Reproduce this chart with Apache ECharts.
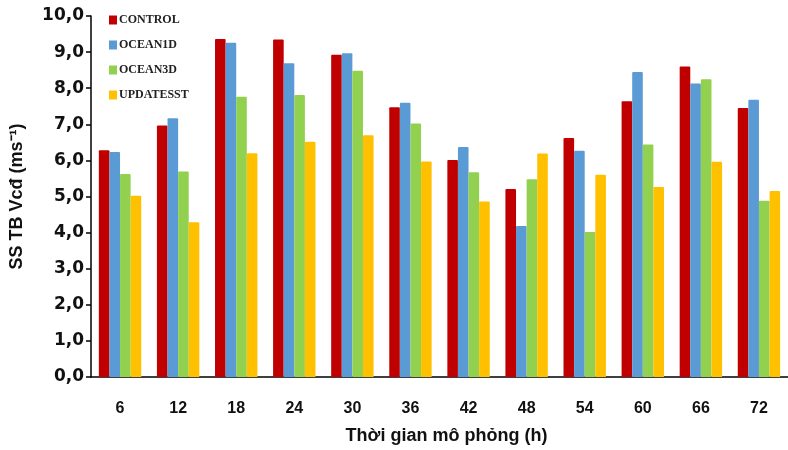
<!DOCTYPE html>
<html>
<head>
<meta charset="utf-8">
<script src="https://cdn.jsdelivr.net/npm/echarts@6/dist/echarts.min.js"></script>
<style>
html,body{margin:0;padding:0;background:#fff;}
#chart{width:788px;height:450px;}
</style>
</head>
<body>
<div id="chart"></div>
<script>
const categories = ['6','12','18','24','30','36','42','48','54','60','66','72'];
const control   = [6.28, 6.97, 9.36, 9.35, 8.93, 7.47, 6.01, 5.21, 6.62, 7.64, 8.60, 7.45];
const ocean1d   = [6.23, 7.17, 9.26, 8.69, 8.97, 7.60, 6.37, 4.18, 6.27, 8.45, 8.13, 7.68];
const ocean3d   = [5.62, 5.69, 7.76, 7.81, 8.48, 7.02, 5.67, 5.48, 4.02, 6.44, 8.25, 4.88];
const updatesst = [5.02, 4.29, 6.20, 6.52, 6.70, 5.97, 4.86, 6.19, 5.60, 5.26, 5.96, 5.15];
const yTicks = [0,1,2,3,4,5,6,7,8,9,10];

const seriesNames = ['CONTROL','OCEAN1D','OCEAN3D','UPDATESST'];
const seriesData = [control, ocean1d, ocean3d, updatesst];
const colors = ['#C00000','#5B9BD5','#92D050','#FFC000'];

const chart = echarts.init(document.getElementById('chart'), null, {renderer:'canvas'});
const font = "'Liberation Sans', Arial, sans-serif";
chart.setOption({
  animation:false,
  color: colors,
  grid:{left:84, right:0, top:16, bottom:73, containLabel:false},
  legend:{
    orient:'vertical', left:104, top:9, itemWidth:8, itemHeight:9, itemGap:13,
    icon:'rect',
    textStyle:{fontFamily:"'Liberation Serif', 'Times New Roman', serif", fontWeight:'bold', fontSize:12, color:'#222', padding:[0,0,0,-3]},
    data: seriesNames
  },
  xAxis:{
    type:'category', data:categories,
    name:'Thời gian mô phỏng (h)', nameLocation:'middle', nameGap:50,
    nameTextStyle:{fontFamily:font, fontWeight:'bold', fontSize:18, color:'#111', padding:[0,0,0,14]},
    axisLine:{lineStyle:{color:'#000', width:1.5}},
    axisTick:{alignWithLabel:true, length:5, lineStyle:{color:'#000', width:1.5}},
    axisLabel:{margin:24, fontFamily:font, fontWeight:'bold', fontSize:16, color:'#111'}
  },
  yAxis:{
    type:'value', min:0, max:10, interval:1,
    name:'SS TB Vcđ (ms⁻¹)', nameLocation:'middle', nameGap:65, nameRotate:90,
    nameTextStyle:{fontFamily:font, fontWeight:'bold', fontSize:18, color:'#111'},
    axisLine:{show:true, lineStyle:{color:'#000', width:1.5}},
    axisTick:{show:true, length:5, lineStyle:{color:'#000', width:1.5}},
    splitLine:{show:false},
    axisLabel:{margin:7, fontFamily:"'DejaVu Sans', sans-serif", fontWeight:'bold', fontSize:17, color:'#111',
      formatter:v => v.toFixed(1).replace('.', ',')}
  },
  series: seriesNames.map((n,i)=>({
    name:n, type:'bar', data:seriesData[i],
    barGap:'0%', barCategoryGap:'27%',
    itemStyle:{color:colors[i], borderRadius:[1,1,0,0]}
  }))
});
</script>
</body>
</html>
